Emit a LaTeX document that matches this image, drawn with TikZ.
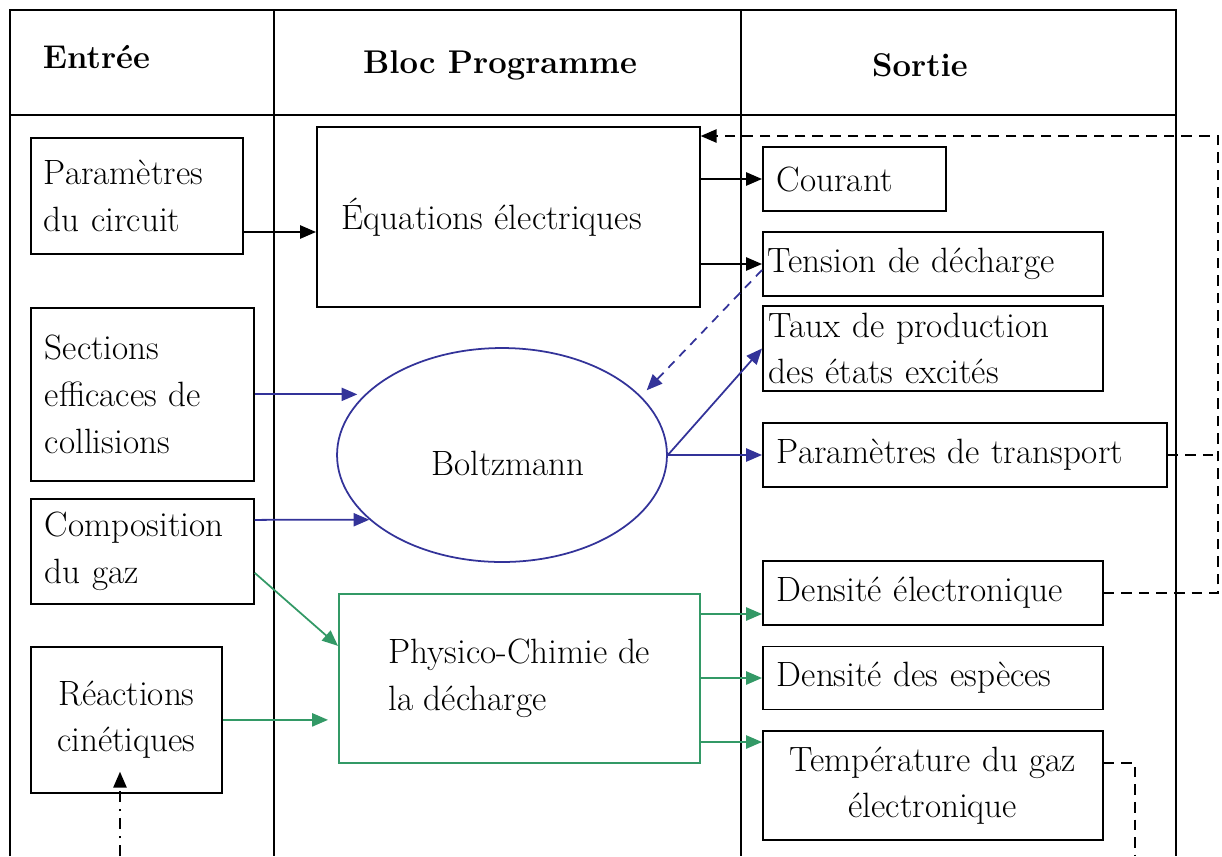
\documentclass[tikz,border=0pt]{standalone}
\usepackage{tikz}
\usetikzlibrary{arrows.meta,positioning,shapes.geometric,calc}
\definecolor{boltzblue}{RGB}{51, 51, 153}
\definecolor{chemgreen}{RGB}{51, 153, 102}

\begin{document}
\begin{tikzpicture}[x=0.02cm, y=-0.02cm, line width=1pt,
  font=\fontsize{20}{26.5}\selectfont, >={Triangle[length=9pt,width=7.5pt]},
  head/.style={font=\fontsize{18.7}{26.5}\selectfont\bfseries, inner sep=0pt},
  inbox/.style={draw, anchor=north west, inner xsep=0.26cm, inner ysep=0pt, align=left},
  outbox/.style={draw, anchor=west, inner ysep=0pt, align=left},
  bl/.style={->, boltzblue},
  gr/.style={->, chemgreen},
  fb/.style={dash pattern=on 6pt off 4pt},
  dd/.style={dash pattern=on 6pt off 4pt on 1.5pt off 4pt}]
\useasboundingbox (0,0) rectangle (1222,856);

% table
\draw (10,856) -- (10,10) -- (1176,10) -- (1176,856);
\draw (10,115) -- (1176,115);
\foreach \x in {274,741} \draw (\x,10) -- (\x,856);
\node[head, anchor=west] (hin) at (42,57) {Entrée};
\node[head] (hprog) at (500,65) {Bloc Programme};
\node[head] (hout) at (920,65) {Sortie};

% entree
\node[inbox, text width=3.72cm, minimum height=2.32cm] (circuit) at (30,137) {Paramètres\\du circuit};
\node[inbox, inner xsep=0.28cm, text width=3.9cm, minimum height=3.46cm] (sections) at (30,307) {Sections\\efficaces de\\collisions};
\node[inbox, inner xsep=0.28cm, text width=3.9cm, minimum height=2.1cm] (compo) at (30,498) {Composition\\du gaz};
\node[inbox, align=center, text width=3.3cm, minimum height=2.92cm] (reactions) at (30,646) {Réactions\\cinétiques};

% bloc programme
\node[inbox, inner xsep=0.5cm, text width=6.66cm, minimum height=3.6cm] (equations) at (316,126) {Équations électriques};
\node[draw=boltzblue, ellipse, inner sep=0pt, minimum width=6.6cm, minimum height=4.28cm] (boltz) at (502,455) {};
\node (boltztxt) at (508,463) {Boltzmann};
\node[inbox, draw=chemgreen, minimum width=7.22cm, minimum height=3.38cm] (physico) at (338,593) {Physico-Chimie de\\la décharge};

% sortie
\foreach \nm/\y/\w/\h/\p/\txt in {%
  courant/179/3.66/1.28/0.28/{Courant},
  tension/264/6.8/1.28/0.1/{Tension de décharge},
  taux/348.5/6.8/1.7/0.12/{Taux de production\\des états excités},
  transport/455/8.08/1.28/0.28/{Paramètres de transport},
  dens_e/593/6.8/1.28/0.28/{Densité électronique},
  dens_esp/678/6.8/1.26/0.28/{Densité des espèces}} {
  \pgfmathsetmacro{\tw}{\w-2*\p}
  \node[outbox, inner xsep=\p cm, text width=\tw cm, minimum height=\h cm] (\nm) at (762,\y) {\txt};
}
\node[outbox, align=center, inner xsep=0.28cm, text width=6.24cm, minimum height=2.18cm] (temp) at (762,785.5) {Température du gaz\\électronique};

% liaisons
\draw[->] (circuit.east |- 0,232) -- (equations.west |- 0,232);
\draw[->] (equations.east |- courant.west) -- (courant.west);
\draw[->] (equations.east |- tension.west) -- (tension.west);
\draw[bl, dash pattern=on 5pt off 4pt] ([yshift=-0.12cm]tension.west) -- ([xshift=0.24cm]boltz.26);
\draw[bl] (boltz.east) -- (taux.west);
\draw[bl] (boltz.east) -- (transport.west);
\draw[bl, shorten >=0.24cm] (sections.east) -- (sections.east -| boltz.154);
\draw[bl] ([yshift=0.63cm]compo.east) -- (boltz.206);
\draw[gr] ([yshift=-0.43cm]compo.east) -- ([yshift=0.65cm]physico.west);
\draw[gr, shorten >=0.2cm] (reactions.east) -- (reactions.east -| physico.west);
\draw[gr] (physico.east |- 0,614) -- (dens_e.west |- 0,614);
\draw[gr] (physico.east |- dens_esp.west) -- (dens_esp.west);
\draw[gr] (physico.east |- 0,742) -- (temp.west |- 0,742);

% retours
\coordinate (rail) at (1218,136);
\draw[fb] (transport.east) -- (transport.east -| rail);
\draw[fb, ->] (dens_e.east) -| (rail) -- (equations.east |- rail);
\coordinate (tempout) at (1135,856);
\draw[fb] ([yshift=0.45cm]temp.east) -| (tempout);
\coordinate (kinin) at (120,856);
\draw[dd, ->] (kinin) -- ($(kinin |- reactions.south)+(0,-22)$);
\end{tikzpicture}
\end{document}
